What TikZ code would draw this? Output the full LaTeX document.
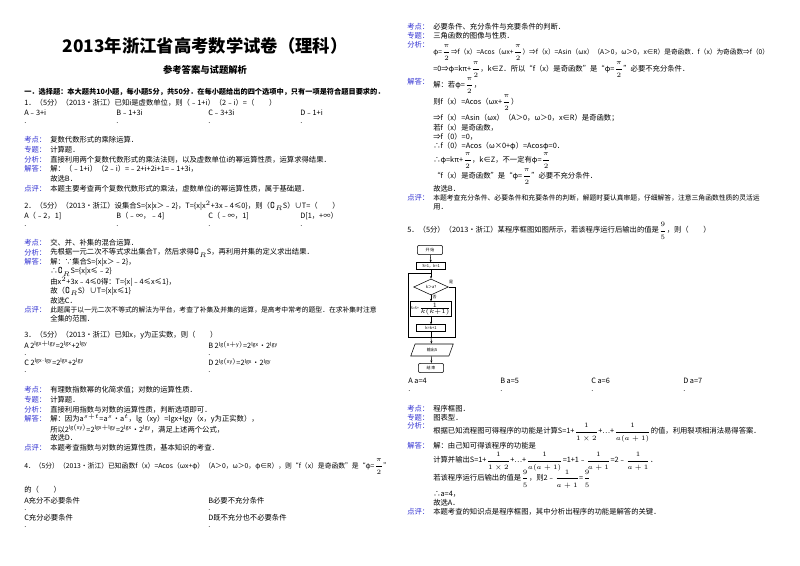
\documentclass[tikz,border=0pt]{standalone}
\usepackage{amssymb}
\usepackage{fontspec}
\setmainfont{Noto Sans CJK SC}
\usetikzlibrary{shapes.geometric,arrows.meta}
\definecolor{lab}{RGB}{50,50,210}
\newcommand\Tx[3]{\node[anchor=west,inner sep=0] at (#1,#2) {#3};}
\newcommand\Ts[3]{\node[anchor=west,inner sep=0,font=\fontsize{5.1}{6}\selectfont] at (#1,#2) {#3};}
\newcommand\Lb[3]{\node[anchor=west,inner sep=0,text=lab] at (#1,#2) {#3};}
\newcommand\fr[2]{$\displaystyle\frac{#1}{#2}$}
\begin{document}
\begin{tikzpicture}[x=0.75pt,y=-0.75pt,font=\fontsize{5.5}{6.5}\selectfont,
 fb/.style={draw,rounded corners=1.5pt,minimum width=19pt,minimum height=7pt,inner sep=0,font=\fontsize{3}{3.5}\selectfont},
 rb/.style={draw,minimum width=22pt,minimum height=5pt,inner sep=0.5pt,font=\fontsize{3}{3.5}\selectfont},
 ar/.style={-{Stealth[length=2pt]},thin}]
\useasboundingbox[fill=white] (0,0) rectangle (800,566);
% ---------- left column
\node[font=\fontsize{13}{14}\selectfont\bfseries] (title) at (205,46) {2013年浙江省高考数学试卷（理科）};
\node[font=\fontsize{7}{8}\selectfont\bfseries] (sub) at (205,70) {参考答案与试题解析};
\node[anchor=west,inner sep=0,font=\fontsize{5.4}{6.5}\selectfont\bfseries] at (24,92) {一．选择题：本大题共10小题，每小题5分，共50分．在每小题给出的四个选项中，只有一项是符合题目要求的．};
\Tx{24}{103}{1．（5分）（2013•浙江）已知i是虚数单位，则（﹣1+i）（2﹣i）=（　　）}
\Tx{24}{113}{A﹣3+i}\Tx{116}{113}{B﹣1+3i}\Tx{208}{113}{C﹣3+3i}\Tx{300}{113}{D﹣1+i}
\Tx{24}{123}{.}\Tx{116}{123}{.}\Tx{208}{123}{.}\Tx{300}{123}{.}
\Lb{24}{140}{考点：}\Tx{50}{140}{复数代数形式的乘除运算．}
\Lb{24}{150}{专题：}\Tx{50}{150}{计算题．}
\Lb{24}{160}{分析：}\Tx{50}{160}{直接利用两个复数代数形式的乘法法则，以及虚数单位i的幂运算性质，运算求得结果．}
\Lb{24}{169}{解答：}\Tx{50}{169}{解：（﹣1+i）（2﹣i）=﹣2+i+2i+1=﹣1+3i，}
\Tx{50}{179}{故选B．}
\Lb{24}{189}{点评：}\Tx{50}{189}{本题主要考查两个复数代数形式的乘法，虚数单位i的幂运算性质，属于基础题．}
\Tx{24}{206}{2．（5分）（2013•浙江）设集合S=\{x|x＞﹣2\}，T=\{x|x$^2$+3x﹣4≤0\}，则（$\complement_R$S）∪T=（　　）}
\Tx{24}{216}{A（﹣2，1]}\Tx{116}{216}{B（﹣∞，﹣4]}\Tx{208}{216}{C（﹣∞，1]}\Tx{300}{216}{D[1，+∞）}
\Tx{24}{226}{.}\Tx{116}{226}{.}\Tx{208}{226}{.}\Tx{300}{226}{.}
\Lb{24}{243}{考点：}\Tx{50}{243}{交、并、补集的混合运算．}
\Lb{24}{253}{分析：}\Tx{50}{253}{先根据一元二次不等式求出集合T，然后求得$\complement_R$S，再利用并集的定义求出结果．}
\Lb{24}{262}{解答：}\Tx{50}{262}{解：∵集合S=\{x|x＞﹣2\}，}
\Tx{50}{272}{∴$\complement_R$S=\{x|x≤﹣2\}}
\Tx{50}{282}{由x$^2$+3x﹣4≤0得：T=\{x|﹣4≤x≤1\}，}
\Tx{50}{291}{故（$\complement_R$S）∪T=\{x|x≤1\}}
\Tx{50}{301}{故选C．}
\Lb{24}{310}{点评：}\Ts{50}{310}{此题属于以一元二次不等式的解法为平台，考查了补集及并集的运算，是高考中常考的题型．在求补集时注意}
\Tx{50}{319}{全集的范围．}
\Tx{24}{335}{3．（5分）（2013•浙江）已知x，y为正实数，则（　　）}
\Tx{24}{345}{A 2$^{\mathrm{lgx+lgy}}$=2$^{\mathrm{lgx}}$+2$^{\mathrm{lgy}}$}\Tx{208}{345}{B 2$^{\mathrm{lg(x+y)}}$=2$^{\mathrm{lgx}}$•2$^{\mathrm{lgy}}$}
\Tx{24}{355}{.}\Tx{208}{355}{.}
\Tx{24}{362}{C 2$^{\mathrm{lgx\cdot lgy}}$=2$^{\mathrm{lgx}}$+2$^{\mathrm{lgy}}$}\Tx{208}{362}{D 2$^{\mathrm{lg(xy)}}$=2$^{\mathrm{lgx}}$•2$^{\mathrm{lgy}}$}
\Tx{24}{372}{.}\Tx{208}{372}{.}
\Lb{24}{390}{考点：}\Tx{50}{390}{有理数指数幂的化简求值；对数的运算性质．}
\Lb{24}{400}{专题：}\Tx{50}{400}{计算题．}
\Lb{24}{410}{分析：}\Tx{50}{410}{直接利用指数与对数的运算性质，判断选项即可．}
\Lb{24}{419}{解答：}\Tx{50}{419}{解：因为a$^{s+t}$=a$^s$•a$^t$，lg（xy）=lgx+lgy（x，y为正实数），}
\Tx{50}{429}{所以2$^{\mathrm{lg(xy)}}$=2$^{\mathrm{lgx+lgy}}$=2$^{\mathrm{lgx}}$•2$^{\mathrm{lgy}}$，满足上述两个公式，}
\Tx{50}{438}{故选D．}
\Lb{24}{448}{点评：}\Tx{50}{448}{本题考查指数与对数的运算性质，基本知识的考查．}
\Ts{24}{467}{4．（5分）（2013•浙江）已知函数f（x）=Acos（ωx+φ）（A＞0，ω＞0，φ∈R），则“f（x）是奇函数”是“φ=\fr{\pi}{2}”}
\Tx{24}{490}{的（　　）}
\Tx{24}{501}{A充分不必要条件}\Tx{208}{501}{B必要不充分条件}
\Tx{24}{510}{.}\Tx{208}{510}{.}
\Tx{24}{518}{C充分必要条件}\Tx{208}{518}{D既不充分也不必要条件}
\Tx{24}{527}{.}\Tx{208}{527}{.}
% ---------- right column
\Lb{407}{27}{考点：}\Tx{433}{27}{必要条件、充分条件与充要条件的判断．}
\Lb{407}{36}{专题：}\Tx{433}{36}{三角函数的图像与性质．}
\Lb{407}{45}{分析：}
\node[anchor=west,inner sep=0,font=\fontsize{5.0}{6}\selectfont] at (433,53) {φ=\fr{\pi}{2}⇒f（x）=Acos（ωx+\fr{\pi}{2}）⇒f（x）=Asin（ωx）（A＞0，ω＞0，x∈R）是奇函数．f（x）为奇函数⇒f（0）};
\Tx{433}{70}{=0⇒φ=kπ+\fr{\pi}{2}，k∈Z．所以“f（x）是奇函数”是“φ=\fr{\pi}{2}”必要不充分条件．}
\Lb{407}{82}{解答：}\Tx{433}{86}{解：若φ=\fr{\pi}{2}，}
\Tx{433}{103}{则f（x）=Acos（ωx+\fr{\pi}{2}）}
\Tx{433}{118}{⇒f（x）=Asin（ωx）（A＞0，ω＞0，x∈R）是奇函数；}
\Tx{433}{128}{若f（x）是奇函数，}
\Tx{433}{137}{⇒f（0）=0，}
\Tx{433}{146}{∴f（0）=Acos（ω×0+φ）=Acosφ=0．}
\Tx{433}{161}{∴φ=kπ+\fr{\pi}{2}，k∈Z，不一定有φ=\fr{\pi}{2}}
\Tx{433}{177}{“f（x）是奇函数”是“φ=\fr{\pi}{2}”必要不充分条件．}
\Tx{433}{189}{故选B．}
\Lb{407}{198}{点评：}\Ts{433}{198}{本题考查充分条件、必要条件和充要条件的判断，解题时要认真审题，仔细解答，注意三角函数性质的灵活运}
\Tx{433}{207}{用．}
\Tx{407}{231}{5．（5分）（2013•浙江）某程序框图如图所示，若该程序运行后输出的值是\fr{9}{5}，则（　　）}
% flowchart
\node[fb] (st) at (430,250) {开 始};
\node[rb] (init) at (431,266) {S=1，k=1};
\node[draw,diamond,aspect=2.2,minimum width=26pt,minimum height=12pt,inner sep=0,font=\fontsize{3}{3.5}\selectfont] (dec) at (431,287) {k＞a?};
\node[rb,minimum height=11pt,font=\fontsize{2.6}{3}\selectfont] (upd) at (431,309) {S=S+$\frac{1}{k(k+1)}$};
\node[rb] (inc) at (431,328) {k=k+1};
\node[draw,trapezium,trapezium left angle=70,trapezium right angle=110,minimum width=18pt,minimum height=9pt,inner sep=0,font=\fontsize{3}{3.5}\selectfont] (out) at (432,350) {输出S};
\node[fb] (end) at (431,368) {结 束};
\coordinate (j1) at (431,273);
\coordinate (j2) at (431,337);
\draw[ar] (st) -- (init);
\draw[ar] (init) -- (dec);
\draw[ar] (dec) -- node[pos=0.3,right,inner sep=1pt,font=\fontsize{3}{3.5}\selectfont]{否} (upd);
\draw[ar] (upd) -- (inc);
\draw[thin] (inc.south) -- (j2) -- (408,337) -- (408,273) -- (j1);
\draw[thin] (dec.east) -- (455,287) -- (455,337) -- (j2);
\node[font=\fontsize{3}{3.5}\selectfont,inner sep=0] (yes) at (451,282) {是};
\draw[ar] (j2) -- (out);
\draw[ar] (out) -- (end);
\Tx{408}{381}{A a=4}\Tx{500}{381}{B a=5}\Tx{591}{381}{C a=6}\Tx{683}{381}{D a=7}
\Tx{408}{391}{.}\Tx{500}{391}{.}\Tx{591}{391}{.}\Tx{683}{391}{.}
\Lb{407}{409}{考点：}\Tx{433}{409}{程序框图．}
\Lb{407}{418}{专题：}\Tx{433}{418}{图表型．}
\Lb{407}{426}{分析：}\Tx{433}{433}{根据已知流程图可得程序的功能是计算S=1+\fr{1}{1\times2}+…+\fr{1}{a(a+1)}的值，利用裂项相消法易得答案．}
\Lb{407}{446}{解答：}\Tx{433}{446}{解：由己知可得该程序的功能是}
\Tx{433}{462}{计算并输出S=1+\fr{1}{1\times2}+…+\fr{1}{a(a+1)}=1+1﹣\fr{1}{a+1}=2﹣\fr{1}{a+1}．}
\Tx{433}{479}{若该程序运行后输出的值是\fr{9}{5}，则2﹣\fr{1}{a+1}=\fr{9}{5}}
\Tx{433}{494}{∴a=4，}
\Tx{433}{503}{故选A．}
\Lb{407}{512}{点评：}\Tx{433}{512}{本题考查的知识点是程序框图，其中分析出程序的功能是解答的关键．}
\end{tikzpicture}
\end{document}
